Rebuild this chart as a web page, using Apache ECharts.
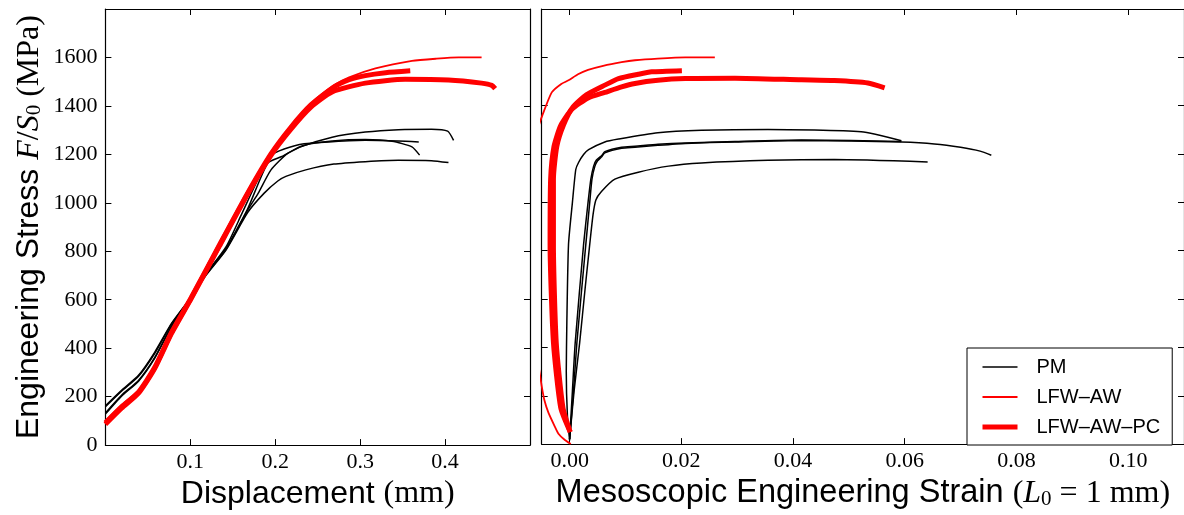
<!DOCTYPE html>
<html>
<head>
<meta charset="utf-8">
<script src="https://cdn.jsdelivr.net/npm/echarts@6/dist/echarts.min.js"></script>
<style>
html,body{margin:0;padding:0;background:#fff;}
#c{width:1184px;height:515px;}
</style>
</head>
<body>
<div id="c"></div>
<script>
// ---------- tick labels ----------
const yTicks = [0, 200, 400, 600, 800, 1000, 1200, 1400, 1600];
const dispTicks = [0.1, 0.2, 0.3, 0.4];
const strainTicks = [0.00, 0.02, 0.04, 0.06, 0.08, 0.10];
const legendNames = ['PM', 'LFW\u2013AW', 'LFW\u2013AW\u2013PC'];

// ---------- left panel: displacement (mm) vs stress (MPa) ----------
const dispPM_A = [[0,162],[0.019,226],[0.039,288],[0.058,383],[0.078,503],[0.101,612],[0.117,700],[0.142,812],[0.1675,975],[0.191,1163],[0.207,1190],[0.230,1231],[0.267,1271],[0.306,1292],[0.345,1302],[0.384,1304],[0.403,1296],[0.410,1258]];
const dispPM_B = [[0,133],[0.019,206],[0.039,267],[0.058,361],[0.078,492],[0.101,610],[0.117,700],[0.142,818],[0.160,950],[0.178,1085],[0.195,1195],[0.2105,1222],[0.234,1244],[0.267,1252],[0.306,1258],[0.345,1255],[0.369,1251]];
const dispPM_C = [[0,158],[0.019,222],[0.039,284],[0.058,378],[0.078,500],[0.101,610],[0.117,697],[0.142,808],[0.1675,970],[0.180,1040],[0.195,1136],[0.2145,1204],[0.234,1238],[0.267,1255],[0.306,1261],[0.3375,1254],[0.361,1231],[0.370,1197]];
const dispPM_D = [[0,128],[0.019,202],[0.039,264],[0.058,358],[0.078,488],[0.101,606],[0.117,694],[0.142,805],[0.1675,960],[0.187,1040],[0.203,1090],[0.2125,1109],[0.236,1136],[0.269,1160],[0.306,1170],[0.345,1176],[0.384,1174],[0.404,1166]];
const dispAW = [[0,100],[0.019,165],[0.039,225],[0.058,325],[0.078,470],[0.101,612],[0.134,828],[0.1675,1045],[0.195,1208],[0.218,1316],[0.242,1410],[0.269,1485],[0.287,1518],[0.318,1555],[0.361,1586],[0.390,1595],[0.416,1600],[0.443,1600]];
const dispPC_1 = [[0,92],[0.019,158],[0.039,219],[0.058,320],[0.078,466],[0.101,608],[0.134,824],[0.1675,1040],[0.195,1202],[0.218,1310],[0.242,1404],[0.269,1478],[0.287,1508],[0.306,1525],[0.330,1537],[0.359,1545]];
const dispPC_2 = [[0,86],[0.019,152],[0.039,214],[0.058,316],[0.078,462],[0.101,605],[0.134,820],[0.1675,1036],[0.195,1196],[0.218,1302],[0.242,1395],[0.267,1458],[0.306,1494],[0.353,1510],[0.404,1507],[0.443,1494],[0.455,1485],[0.459,1471]];

// ---------- right panel: mesoscopic strain vs stress (MPa) ----------
const strPM_A = [[0.0000,15],[-0.0004,120],[-0.0006,300],[-0.0005,500],[-0.0002,826],[0.0005,1000],[0.0011,1136],[0.0016,1165],[0.0025,1198],[0.0034,1218],[0.0063,1250],[0.00875,1262],[0.0158,1288],[0.0236,1298],[0.0355,1302],[0.0522,1292],[0.0594,1255]];
const strPM_B = [[0,20],[0.0005,220],[0.0010,420],[0.0025,826],[0.0033,1000],[0.0038,1096],[0.0043,1150],[0.0048,1175],[0.0058,1195],[0.0063,1210],[0.0093,1228],[0.0117,1232],[0.0158,1240],[0.0207,1246],[0.0296,1252],[0.0415,1258],[0.0504,1256],[0.0594,1252]];
const strPM_C = [[0,20],[0.0007,220],[0.0013,420],[0.0029,826],[0.0036,1000],[0.0040,1096],[0.0045,1148],[0.0050,1172],[0.0058,1190],[0.0063,1205],[0.0093,1224],[0.0117,1228],[0.0158,1236],[0.0207,1244],[0.0296,1250],[0.0415,1256],[0.0504,1254],[0.0594,1250],[0.0653,1242],[0.0700,1228],[0.0735,1212],[0.0755,1195]];
const strPM_D = [[0,20],[0.0008,220],[0.0018,420],[0.0028,650],[0.0036,826],[0.0042,950],[0.0047,1010],[0.0057,1045],[0.0081,1096],[0.0123,1125],[0.0177,1150],[0.0236,1163],[0.0355,1174],[0.0474,1177],[0.0641,1167]];
const strAW = [[0.0002,0],[-0.0010,20],[-0.0020,43],[-0.0026,70],[-0.0038,130],[-0.0045,180],[-0.0050,240],[-0.0056,330],[-0.0090,800],[-0.0056,1310],[-0.0049,1359],[-0.0032,1455],[-0.0015,1490],[-0.0002,1505],[0.0015,1530],[0.0033,1548],[0.0060,1565],[0.0093,1580],[0.0117,1588],[0.0158,1595],[0.0207,1600],[0.0260,1600]];
const strPC_1 = [[0.0001,50],[-0.0012,151],[-0.0024,421],[-0.0029,826],[-0.0029,1096],[-0.0023,1231],[-0.0011,1320],[0.0006,1395],[0.0030,1445],[0.0063,1485],[0.00875,1512],[0.0123,1530],[0.0147,1540],[0.0201,1545]];
const strPC_2 = [[0.0001,50],[-0.0016,151],[-0.0029,421],[-0.0035,826],[-0.0034,1096],[-0.0028,1231],[-0.0016,1318],[0.0004,1385],[0.0033,1432],[0.0063,1455],[0.0093,1478],[0.0117,1492],[0.0158,1505],[0.0207,1512],[0.0296,1514],[0.0415,1507],[0.0474,1504],[0.0534,1494],[0.0564,1474]];

const SANS = 'Liberation Sans';
const SERIF = 'Liberation Serif';
const mathRich = {
  i: {fontFamily: SERIF, fontStyle: 'italic', fontSize: 32, color: '#000'},
  m: {fontFamily: SERIF, fontSize: 32, color: '#000'},
  sub: {fontFamily: SERIF, fontSize: 21, lineHeight: 12, verticalAlign: 'bottom', color: '#000'}
};

function axisBase(extra) {
  return Object.assign({
    type: 'value',
    splitLine: {show: false},
    axisLine: {show: true, onZero: false, lineStyle: {color: '#000', width: 1.2}},
    axisTick: {show: true, inside: true, length: 6, lineStyle: {color: '#000', width: 1}},
    axisLabel: {show: false}
  }, extra);
}
const tickLabel = {fontFamily: SERIF, fontSize: 22, color: '#000'};

const xAxes = [
  axisBase({gridIndex: 0, position: 'bottom', min: 0, max: 0.5, interval: 0.1,
    axisLabel: Object.assign({show: true, margin: 6, showMinLabel: false, showMaxLabel: false,
      formatter: v => (v > 0.001 && v < 0.499) ? v.toFixed(1) : ''}, tickLabel),
    name: 'Displacement {m|(mm)}', nameLocation: 'middle', nameGap: 24,
    nameTextStyle: {fontFamily: SANS, fontSize: 32, color: '#000', rich: mathRich}}),
  axisBase({gridIndex: 0, position: 'top', min: 0, max: 0.5, interval: 0.1}),
  axisBase({gridIndex: 1, position: 'bottom', min: -0.005, max: 0.11,
    axisLabel: Object.assign({show: true, margin: 6, customValues: strainTicks, formatter: v => v.toFixed(2)}, tickLabel),
    axisTick: {show: true, inside: true, length: 6, customValues: strainTicks, lineStyle: {color: '#000'}},
    name: 'Mesoscopic Engineering Strain {m|(}{i|L}{sub|0}{m| = 1 mm)}', nameLocation: 'middle', nameGap: 24,
    nameTextStyle: {fontFamily: SANS, fontSize: 32.5, color: '#000', rich: mathRich}}),
  axisBase({gridIndex: 1, position: 'top', min: -0.005, max: 0.11,
    axisTick: {show: true, inside: true, length: 6, customValues: strainTicks, lineStyle: {color: '#000'}}})
];
const yAxes = [
  axisBase({gridIndex: 0, position: 'left', min: 0, max: 1800, interval: 200,
    axisLabel: Object.assign({show: true, margin: 8, showMaxLabel: false,
      formatter: v => (v < 1700 ? String(Math.round(v)) : '')}, tickLabel),
    name: 'Engineering Stress {i|F}{m|/}{i|S}{sub|0}{m| (MPa)}', nameLocation: 'middle', nameGap: 60, nameRotate: 90,
    nameTextStyle: {fontFamily: SANS, fontSize: 32, color: '#000', rich: mathRich}}),
  axisBase({gridIndex: 0, position: 'right', min: 0, max: 1800, interval: 200}),
  axisBase({gridIndex: 1, position: 'left', min: 0, max: 1800, interval: 200}),
  axisBase({gridIndex: 1, position: 'right', min: 0, max: 1800, interval: 200})
];

function line(name, data, panel, color, width) {
  return {
    type: 'line', name: name, data: data,
    xAxisIndex: panel * 2, yAxisIndex: panel * 2,
    symbol: 'none', showSymbol: false, smooth: 0.2, clip: true,
    lineStyle: {color: color, width: width},
    itemStyle: {color: color},
    emphasis: {disabled: true}, silent: true
  };
}
const series = [
  line(legendNames[0], dispPM_A, 0, '#000', 1.5),
  line(legendNames[0], dispPM_B, 0, '#000', 1.5),
  line(legendNames[0], dispPM_C, 0, '#000', 1.5),
  line(legendNames[0], dispPM_D, 0, '#000', 1.5),
  line(legendNames[0], strPM_A, 1, '#000', 1.5),
  line(legendNames[0], strPM_B, 1, '#000', 1.5),
  line(legendNames[0], strPM_C, 1, '#000', 1.5),
  line(legendNames[0], strPM_D, 1, '#000', 1.5),
  line(legendNames[1], dispAW, 0, '#ff0000', 1.8),
  line(legendNames[1], strAW, 1, '#ff0000', 1.8),
  line(legendNames[2], dispPC_1, 0, '#ff0000', 5),
  line(legendNames[2], dispPC_2, 0, '#ff0000', 5),
  line(legendNames[2], strPC_1, 1, '#ff0000', 5),
  line(legendNames[2], strPC_2, 1, '#ff0000', 5)
];

const chart = echarts.init(document.getElementById('c'), null, {renderer: 'canvas'});
chart.setOption({
  animation: false,
  backgroundColor: '#fff',
  grid: [
    {left: 105.4, top: 9, width: 424.6, height: 445},
    {left: 541.7, top: 9, width: 643.5, height: 445}
  ],
  xAxis: xAxes,
  yAxis: yAxes,
  legend: {
    data: [
      {name: legendNames[0], lineStyle: {width: 1.5, color: '#000'}},
      {name: legendNames[1], lineStyle: {width: 1.8, color: '#ff0000'}},
      {name: legendNames[2], lineStyle: {width: 5, color: '#ff0000'}}
    ],
    orient: 'vertical', left: 967, top: 348,
    itemWidth: 35, itemHeight: 14, itemGap: 10,
    padding: [9, 12, 8, 13],
    borderColor: '#000', borderWidth: 1, borderRadius: 0, backgroundColor: '#fff',
    textStyle: {fontFamily: SANS, fontSize: 20, color: '#000', padding: [0, 0, 0, 14]},
    itemStyle: {opacity: 0},
    selectedMode: false
  },
  series: series
});
</script>
</body>
</html>
